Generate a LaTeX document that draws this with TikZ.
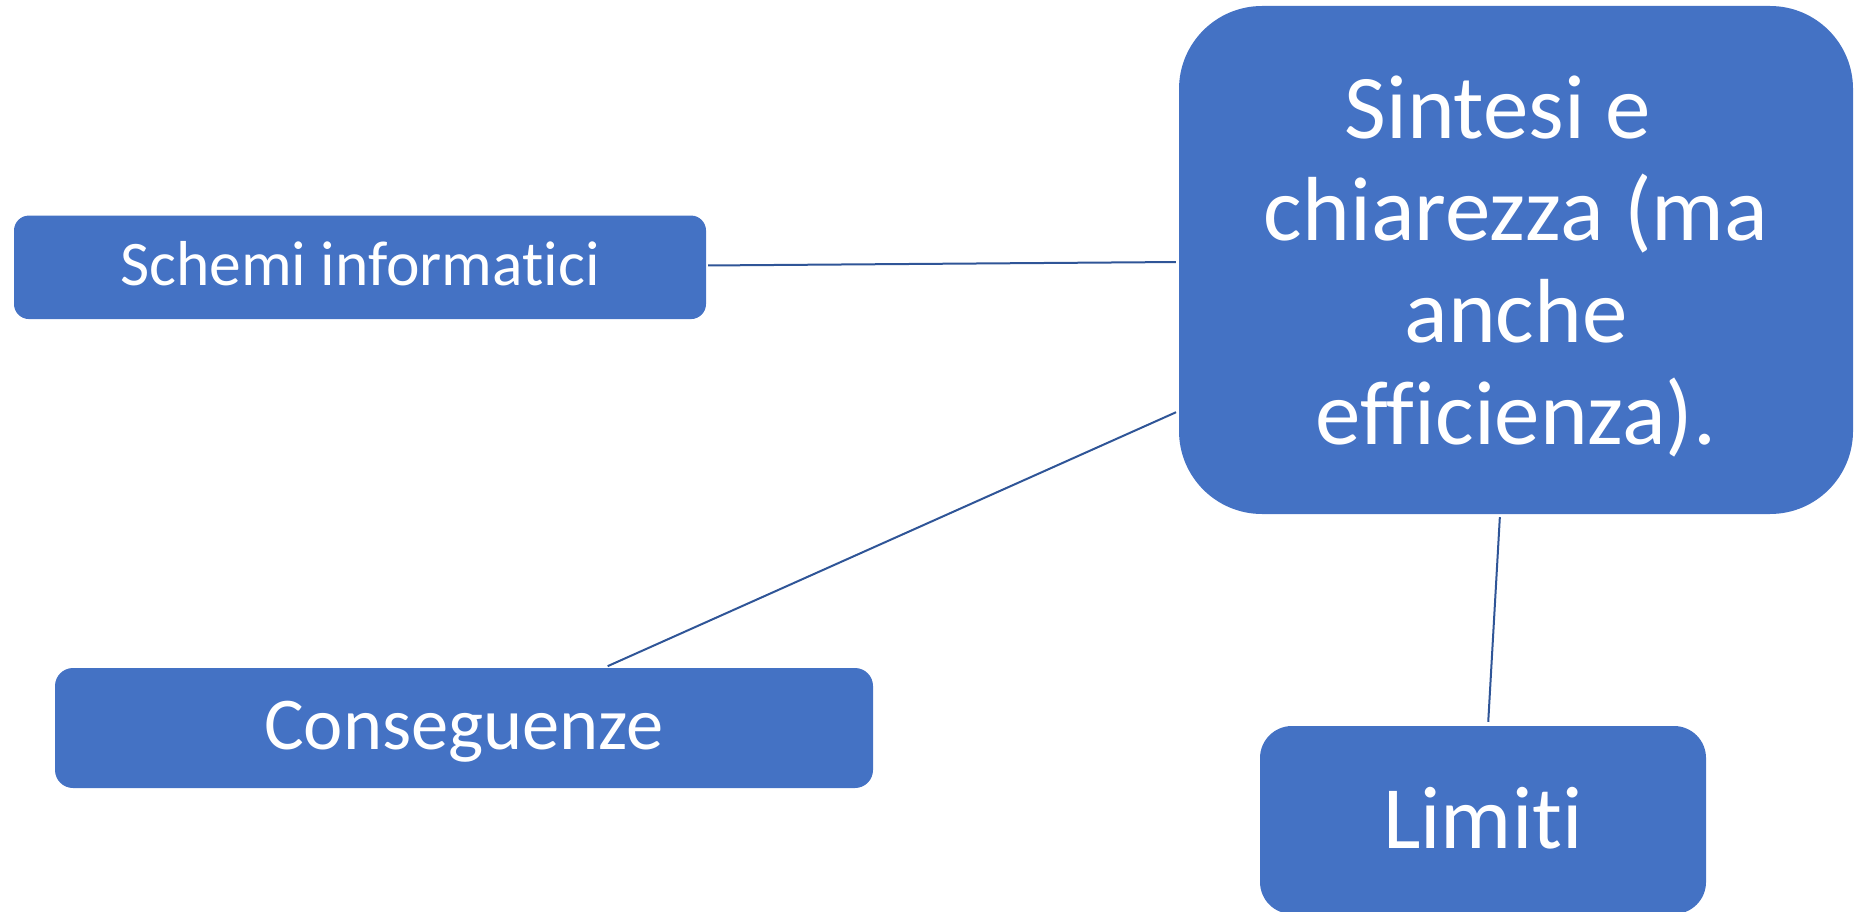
\documentclass[tikz,border=0pt]{standalone}
\usepackage{fontspec}
\setmainfont[RawFeature={-liga;-clig}]{Carlito}
\definecolor{boxblue}{HTML}{4472C4}
\definecolor{linkblue}{HTML}{2F5597}
\begin{document}
\begin{tikzpicture}[x=1pt,y=-1pt,
  box/.style={rectangle, fill=boxblue, draw=none, text=white, inner sep=0pt, align=center},
  link/.style={draw=linkblue, line width=2pt}]
\useasboundingbox (0,0) rectangle (1867,912);
\node[box, rounded corners=15pt, minimum width=692pt, minimum height=103.5pt,
  font=\fontsize{63.5}{76}\selectfont, text height=47pt, text depth=10pt] (schemi) at (360,267.3) {Schemi informatici};
\node[box, rounded corners=18pt, minimum width=818pt, minimum height=120pt,
  font=\fontsize{74.5}{88}\selectfont, text height=55pt, text depth=13pt] (cons) at (464,728) {Conseguenze};
\node[box, rounded corners=83pt, minimum width=674pt, minimum height=508pt,
  font=\fontsize{91}{102}\selectfont] (main) at (1516,260)
  {\rule{0pt}{76pt}Sintesi e\hspace*{0.4em}\\chiarezza (ma\\anche\\efficienza).};
\node[box, rounded corners=32pt, minimum width=446pt, minimum height=188pt,
  font=\fontsize{89}{100}\selectfont, text height=66pt, text depth=10pt] (lim) at (1483,820) {Limiti};
\draw[link, shorten <=2pt, shorten >=3pt] ([yshift=1.8pt]schemi.east) -- ([yshift=-2pt]main.west);
\draw[link, shorten <=4pt, shorten >=3pt] ([xshift=140pt]cons.north) -- ([yshift=-151pt]main.west);
\draw[link, shorten <=3pt, shorten >=4pt] ([xshift=-16pt]main.south) -- ([xshift=5pt]lim.north);
\end{tikzpicture}
\end{document}
